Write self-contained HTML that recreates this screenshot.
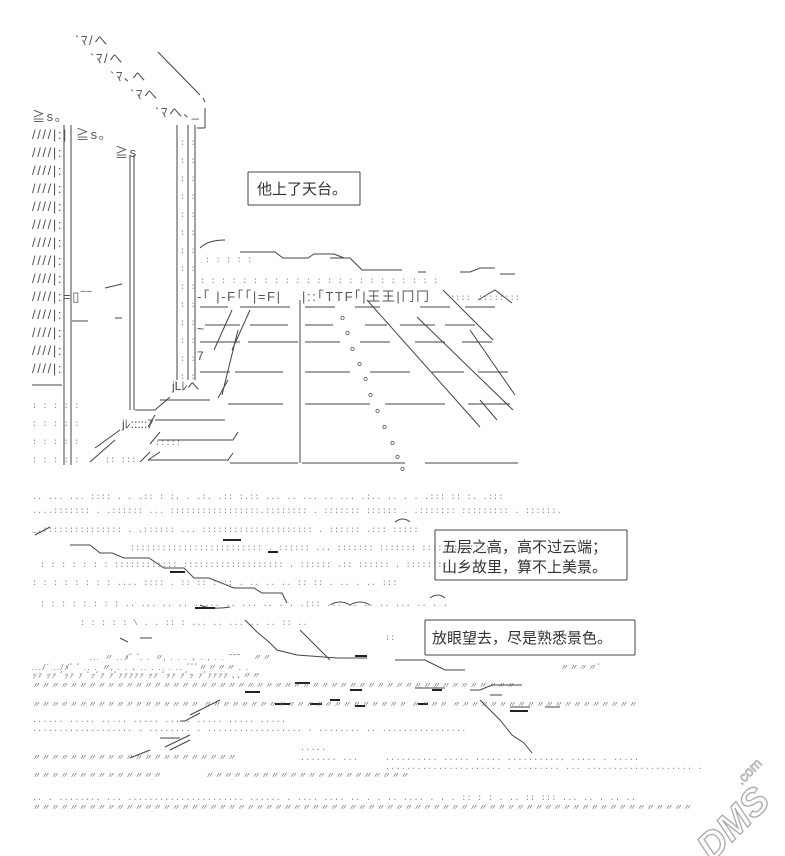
<!DOCTYPE html>
<html><head><meta charset="utf-8"><style>
html,body{margin:0;padding:0;background:#fff;}
svg{display:block}
.t{font-family:"Liberation Sans","Noto Sans CJK SC",sans-serif;font-size:13px;fill:#333}
.m{font-family:"Liberation Sans","Noto Sans CJK JP",sans-serif;font-size:12px;fill:#444}
.w{font-family:"Liberation Sans","Noto Sans CJK JP",sans-serif;font-size:13px;fill:#555;letter-spacing:1.6px}
.d{font-family:"Liberation Mono",monospace;font-size:8px;fill:#777;letter-spacing:0.5px}
.q{font-family:"Liberation Sans","Noto Sans CJK JP",sans-serif;font-size:8px;fill:#666;font-style:italic;letter-spacing:1.3px}
.cj{font-family:"Liberation Sans","Noto Sans CJK SC",sans-serif;font-size:15px;fill:#333}
</style></head><body>
<svg width="785" height="856" viewBox="0 0 785 856" xmlns="http://www.w3.org/2000/svg">
<g stroke="#444" stroke-width="1" fill="none">
<line x1="158" y1="52" x2="200" y2="95"/>
<line x1="203" y1="98" x2="205" y2="102"/>
<line x1="205" y1="108" x2="205" y2="128"/>
<line x1="197" y1="128" x2="205" y2="128"/>
<line x1="64" y1="125" x2="64" y2="465"/>
<line x1="71" y1="125" x2="71" y2="465"/>
<line x1="32" y1="385" x2="62" y2="385"/>
<line x1="130" y1="155" x2="130" y2="410"/>
<line x1="134" y1="155" x2="134" y2="410"/>
<line x1="177" y1="125" x2="177" y2="380"/>
<line x1="188" y1="125" x2="188" y2="380"/>
<line x1="195" y1="125" x2="195" y2="380"/>
<line x1="105" y1="288" x2="122" y2="284"/>
<line x1="72" y1="321" x2="88" y2="321"/>
<line x1="115" y1="318" x2="122" y2="318"/>
<line x1="300" y1="300" x2="300" y2="463"/>
<path d="M200 307h28M240 307h50M305 307h30M355 307h25M420 307h30M465 307h30"/>
<path d="M205 325h35M250 325h38M305 325h28M365 325h22M400 325h35M445 325h30"/>
<path d="M200 342h40M248 342h50M305 342h35M360 342h30M415 342h30M462 342h30"/>
<path d="M200 372h30M235 372h48M305 372h45M370 372h40M432 372h32M478 372h30"/>
<path d="M228 404h55M305 404h65M385 404h60M468 404h42"/>
<path d="M230 463h68M302 463h103M425 463h93"/>
<path d="M232 310L214 350M250 310L232 350M238 330L222 395M228 380L218 398"/>
<path d="M367 300L480 427M417 317L513 410M443 290L493 340M470 330L515 395M480 400L497 420"/>
<path d="M478 300L495 290L512 303"/>
<path d="M135 410h20L170 397M90 462L115 440M95 448L120 430M140 462L150 452"/>
<path d="M148 427L155 415M150 444L160 432M148 460L160 452"/>
<path d="M160 400h50M155 420h70M158 440h75l5 -8M148 460h80l5 -7"/>
<path d="M200 248q8-8 25-8 M240 252h35l8 6h25l6-4h20l10 4M330 258h20l12 12h40M418 272h8M460 272h10l10-4h15M500 274h15"/>
<path d="M248 172h112M248 205h112M248 172v33M360 172v33"/>
<path d="M435 530h192M435 580h192M435 530v50M627 530v50"/>
<path d="M425 620h210M425 655h210M425 620v35M635 620v35"/>
<path d="M35 535l15-8M70 545h20l10 8h12l12 5h25l15 10h20l10 10h15l25 10h20l8 5h20l5 10M200 605q10 5 30 2M245 620l12 12 12 10 8 8 20 5 40 3h30"/>
<path d="M120 638l8 4M140 638h12M395 660h30l20 10h20"/>
<path d="M300 630l30 30"/>
<path d="M415 688h30M470 690h10l12-5h30M490 695h12"/>
<path d="M200 713l-15 8h-5M220 700l-30 15M160 738h20M190 735l-25 12M130 758l20-8M170 750l20-10"/>
<path d="M480 700l20 20 12 15 12 8 8 10"/>
<path d="M510 707h20M545 707h15"/>
<path d="M330 605q10-6 20 0q10-6 20 0"/>
<path d="M395 522q8-6 15 0M430 598q8-6 15 0"/>
</g>
<g stroke="#222" stroke-width="2">
<path d="M223 540h18M268 552h10M170 572h15M195 608h20M355 656h12M295 683h15M245 692h15M350 690h12M275 704h15M310 704h12M355 706h10M418 704h10M510 711h18M432 690h10M330 700h10"/>
</g>
<text class="w" x="75" y="45">`ﾏ/へ</text>
<text class="w" x="90" y="63">`ﾏ/へ</text>
<text class="w" x="110" y="81">`ﾏ､へ</text>
<text class="w" x="130" y="99">`ﾏへ</text>
<text class="w" x="155" y="117">`ﾏへ､_</text>
<text class="w" x="32" y="121">≧s。</text>
<text class="w" x="76" y="139">≧s。</text>
<text class="w" x="115" y="157">≧s</text>
<text class="w" x="32" y="139">////|:|</text>
<text class="w" x="32" y="157">////|:</text>
<text class="w" x="32" y="175">////|:</text>
<text class="w" x="32" y="193">////|:</text>
<text class="w" x="32" y="211">////|:</text>
<text class="w" x="32" y="229">////|:</text>
<text class="w" x="32" y="247">////|:</text>
<text class="w" x="32" y="265">////|:</text>
<text class="w" x="32" y="283">////|:</text>
<text class="w" x="32" y="301">////|:=▯‾‾</text>
<text class="w" x="32" y="319">////|:</text>
<text class="w" x="32" y="337">////|:</text>
<text class="w" x="32" y="355">////|:</text>
<text class="w" x="32" y="373">////|:</text>
<text class="d" x="32" y="408">: : : : :</text>
<text class="d" x="32" y="426">: : : : :</text>
<text class="d" x="32" y="444">: : : : :</text>
<text class="d" x="32" y="462">: : : : :</text>
<text class="d" x="180" y="145">: :</text><text class="d" x="180" y="163">: :</text><text class="d" x="180" y="181">: :</text><text class="d" x="180" y="199">: :</text><text class="d" x="180" y="217">: :</text><text class="d" x="180" y="235">: :</text><text class="d" x="180" y="253">: :</text><text class="d" x="180" y="271">: :</text><text class="d" x="180" y="289">: :</text><text class="d" x="180" y="307">: :</text><text class="d" x="180" y="325">: :</text><text class="d" x="180" y="343">: :</text><text class="d" x="180" y="361">: :</text><text class="d" x="180" y="379">: :</text>
<text class="w" x="197" y="301">-｢ |-F｢｢|=F|</text>
<text class="w" x="302" y="301">|::｢TTF｢|王王|冂冂</text>
<text class="d" x="205" y="262">: : : : :</text>
<text class="d" x="200" y="283">: : : : : : : : : : : : : : : : : : : : : : :</text>
<text class="d" x="450" y="300">::::</text><text class="d" x="478" y="300">::::::::</text>
<text class="m" x="197" y="333">~</text><text class="m" x="197" y="360">7</text>
<text class="m" x="172" y="390">jLﾚへ</text>
<text class="m" x="122" y="428">jﾚ:::::ｱ</text>
<text class="d" x="155" y="445">:::::</text>
<text class="d" x="105" y="462">:: :::</text>
<text class="t" x="340" y="319">。</text><text class="t" x="345" y="334">。</text><text class="t" x="350" y="350">。</text><text class="t" x="357" y="365">。</text><text class="t" x="363" y="380">。</text><text class="t" x="368" y="396">。</text><text class="t" x="375" y="412">。</text><text class="t" x="382" y="428">。</text><text class="t" x="390" y="444">。</text><text class="t" x="395" y="458">。</text><text class="t" x="400" y="470">。</text>
<text class="cj" x="257" y="194">他上了天台。</text>
<text class="cj" x="442" y="552">五层之高，高不过云端；</text>
<text class="cj" x="442" y="572">山乡故里，算不上美景。</text>
<text class="cj" x="432" y="643">放眼望去，尽是熟悉景色。</text>
<text class="d" x="32" y="499">.. ... ...  ::::  .  . .::  :  :. .  .:. .:: :.::  ... .. ... ..  ...  .:.. ..  .  .  .:::  ::  :.  .:::</text>
<text class="d" x="32" y="513">....:::::::  .  .:::::: ... :::::::::::::::::.::::::::  .  :::::::  ::::::  .  .::::::: ::::::::: .  ::::::.</text>
<text class="d" x="32" y="532">_.:::::::::::::::  .  .:::::: ... :::::::::::::::::::::  .  :::::: .::: :::::</text>
<text class="d" x="130" y="550">:::::::::::::::::::::::::  .  :::::: ... :::::::  :::::::  :::::::::::::</text>
<text class="d" x="40" y="567">: : : : : : :   ::::::::::::  ::::::::::::::::::: .  :::::: .:: ::::::   .  ::::::::</text>
<text class="d" x="32" y="585">: : : : : : : :    ....  :::: .  :: :: :  ::  .  ..  ..  ..  ::  ::  . .. .  ..  :::</text>
<text class="d" x="40" y="606">: : : : : : : :       ..  ...  .. .. . ...  ..  ... .. .  .  .:::  ... .. .. .. ...  .. . .</text>
<text class="d" x="80" y="625">: : : : : \ . .     :: :   ...  .. ... ..  ..   ::  ..</text>
<text class="d" x="385" y="640">::</text>
<text class="q" x="32" y="670">.../´ ../ﾒﾞ ﾞ .. .  〃, . . ､ .. .  ..  . ..  ﾞﾞﾞ〃〃〃〃  . .</text>
<text class="q" x="90" y="660">... 〃 ..ﾒﾞ ﾞ. .   〃, . . .  ､ . , . .  ˜˜˜ﾞﾞ〃〃</text>
<text class="q" x="32" y="678">ｯｧ ｯｧ  ﾞｯｧ ｧ ﾞｯﾞｧ ｧﾞｧｧｧｧｧ ｯｧ  ﾞｯｧ ｧﾞｯ ｧﾞｧｧｧｧ   ､､〃〃</text>
<text class="q" x="560" y="670">〃〃〃〃ﾞ</text>
<text class="q" x="32" y="688">〃〃〃〃〃〃〃〃〃〃〃〃〃〃〃〃〃〃〃〃〃〃〃〃〃〃〃〃〃〃〃〃〃〃〃〃〃〃〃〃〃〃〃〃〃〃〃〃〃〃〃〃</text>
<text class="q" x="32" y="707">〃〃〃〃〃〃〃〃〃〃〃〃〃〃〃〃〃〃    〃〃〃〃〃〃〃〃〃〃〃〃〃〃〃〃〃〃〃〃〃〃     〃〃〃〃  〃〃〃〃〃〃〃〃〃〃〃〃〃〃〃〃〃〃〃〃</text>
<text class="d" x="32" y="722">......  .....        .....                  .....  .....      .....               .....  .....</text>
<text class="d" x="32" y="731">................... .  ........ .           .................. .  ........ ..         ................</text>
<text class="d" x="300" y="750">.....</text><text class="d" x="300" y="760">.......  ...</text>
<text class="q" x="32" y="760">〃〃〃〃〃〃〃〃〃〃〃〃〃〃〃〃〃〃〃〃〃〃</text>
<text class="d" x="385" y="760">..........  .....      .....   ...........  .....     .  .....</text>
<text class="d" x="385" y="769">...................... .  ........ ... ....................  .</text>
<text class="q" x="32" y="778">〃〃〃〃〃〃〃〃〃〃〃〃〃〃</text>
<text class="q" x="205" y="778">〃〃〃〃〃〃〃〃〃〃〃〃〃〃〃〃〃〃〃〃〃〃</text>
<text class="d" x="32" y="800">..  .  ........ ...  ...................... ......   .  ....  ....   .. . . ..  ....  .  . . ::  :  :  .  ..  ::  :::  ... .. . .. ..</text>
<text class="q" x="32" y="810">〃〃〃〃〃〃〃〃〃〃〃〃〃〃〃〃〃〃〃〃〃〃〃〃〃〃〃〃〃〃〃〃〃〃〃〃〃〃〃〃〃〃〃〃〃〃〃〃〃〃〃〃〃〃〃〃〃〃〃〃〃〃〃〃〃〃〃〃〃〃〃</text>
<text x="672" y="835" transform="rotate(-45 725 800)" font-family="Liberation Sans,sans-serif" font-size="38" font-weight="bold" fill="none" stroke="#aaa" stroke-width="1.3" font-style="italic">DMS</text>
<text x="735" y="780" transform="rotate(-45 745 775)" font-family="Liberation Sans,sans-serif" font-size="14" fill="none" stroke="#aaa" stroke-width="0.8">.com</text>
</svg>
</body></html>
